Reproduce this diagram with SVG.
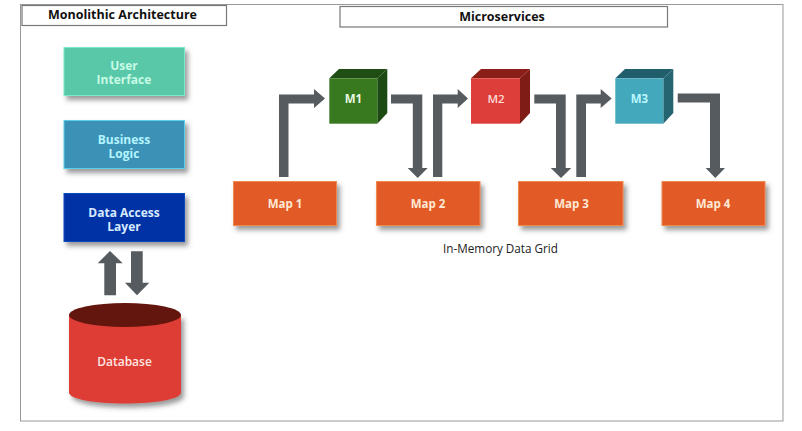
<svg xmlns="http://www.w3.org/2000/svg" width="802" height="431" viewBox="0 0 802 431">
<defs>
<filter id="sh" x="-20%" y="-20%" width="150%" height="150%"><feDropShadow dx="3" dy="4" stdDeviation="2.5" flood-color="#555" flood-opacity="0.6"/></filter>
</defs>
<style>
text{font-family:"Open Sans","Liberation Sans",sans-serif;text-anchor:middle}
.t{font-size:12.500px;font-weight:700;fill:#111}
.b{font-size:11.500px;font-weight:700}
.l{font-size:12px;font-weight:700}
.map{fill:#e25a27;stroke:#f08a50;stroke-width:1;filter:url(#sh)}
.mt{fill:#ffe9d6}
.box{fill:#fff;stroke:#777;stroke-width:1.2}
.con{fill:#555b5e}
</style>
<rect id="frame" x="20.500" y="4.500" width="762.500" height="416.500" fill="#fff" stroke="#999" stroke-width="1"/>
<g id="title-mono"><rect class="box" x="22" y="5.500" width="204.500" height="20"/><text class="t" x="122.500" y="19">Monolithic Architecture</text></g>
<g id="title-micro"><rect class="box" x="340" y="6.500" width="327.500" height="20.500"/><text class="t" x="502" y="21">Microservices</text></g>
<g id="connectors">
<polygon class="con" points="104.300,295.300 116,295.300 116,263.300 122.700,263.300 110,251 97.700,263.300 104.300,263.300"/>
<polygon class="con" points="131,251.300 142.700,251.300 142.700,282.700 149.300,282.700 137,295.300 125,282.700 131,282.700"/>
<polygon class="con" points="279,177 288.500,177 288.500,103.500 314,103.500 314,108 325,98.500 314,89 314,94.500 279,94.500"/>
<polygon class="con" points="391,94.500 422.300,94.500 422.300,168 427.700,168 417.700,178 407.700,168 412.800,168 412.800,103.500 391,103.500"/>
<polygon class="con" points="433,177 442.300,177 442.300,103.500 457.700,103.500 457.700,108 468,98.500 457.700,89 457.700,94.500 433,94.500"/>
<polygon class="con" points="534.300,94.500 565.700,94.500 565.700,168 571.300,168 561,178 550.700,168 556,168 556,103.500 534.300,103.500"/>
<polygon class="con" points="576.300,177 586,177 586,103.500 600.700,103.500 600.700,108 611.700,98.500 600.700,89 600.700,94.500 576.300,94.500"/>
<polygon class="con" points="677.700,93.500 720,93.500 720,168 725,168 715.300,178 705.700,168 710,168 710,102.500 677.700,102.500"/>
</g>
<g id="user-interface"><rect x="64" y="47.500" width="120.500" height="48" fill="#58c8a8" stroke="#7ee8cc" filter="url(#sh)"/><text class="l" fill="#c8fbe6"><tspan x="124" y="69.500">User</tspan><tspan x="124" y="84">Interface</tspan></text></g>
<g id="business-logic"><rect x="64" y="120.500" width="120.500" height="48" fill="#3a92b6" stroke="#5cd0e8" filter="url(#sh)"/><text class="l" fill="#b4f4ff"><tspan x="124" y="143.500">Business</tspan><tspan x="124" y="158">Logic</tspan></text></g>
<g id="data-access"><rect x="64" y="193.500" width="120.500" height="48" fill="#0433a6" stroke="#0a48c0" filter="url(#sh)"/><text class="l" fill="#d8eaff"><tspan x="124" y="216.500">Data Access</tspan><tspan x="124" y="231">Layer</tspan></text></g>
<g id="database">
<path d="M69 315V392.500C69 399 94 403.500 125 403.500S181 399 181 392.500V315Z" fill="#de3e36" filter="url(#sh)"/>
<ellipse cx="125" cy="315" rx="56" ry="12" fill="#63160e"/>
<text fill="#ffe8e4" style="font-size:12px;font-weight:600" x="124.500" y="366">Database</text>
</g>
<g id="m1"><polygon points="329.300,78.300 339,69 387.300,69 377.300,78.300" fill="#1f4d14"/><polygon points="377.300,78.300 387.300,69 387.300,113 377.300,123.700" fill="#1d4a12"/><rect x="329.300" y="78.300" width="48" height="45.400" fill="#38791f"/><text class="b" fill="#e8f8e0" x="353.500" y="102.500">M1</text></g>
<g id="m2"><polygon points="471,78.300 481,69 530,69 520,78.300" fill="#8a1f18"/><polygon points="520,78.300 530,69 530,113 520,123.700" fill="#7f1c15"/><rect x="471" y="78.300" width="49" height="45.400" fill="#de3e3a"/><text class="b" fill="#ffdcd8" style="font-weight:600" x="496" y="102.500">M2</text></g>
<g id="m3"><polygon points="615.300,78.300 625,69 673.300,69 663.300,78.300" fill="#215e6c"/><polygon points="663.300,78.300 673.300,69 673.300,113 663.300,123.700" fill="#256572"/><rect x="615.300" y="78.300" width="48" height="45.400" fill="#44a8bc"/><text class="b" fill="#b8f6ff" x="639.500" y="102.500">M3</text></g>
<g id="map1"><rect class="map" x="233.500" y="181.500" width="103" height="44"/><text class="b mt" x="285" y="208">Map 1</text></g>
<g id="map2"><rect class="map" x="376.500" y="181.500" width="103.500" height="44"/><text class="b mt" x="428" y="208">Map 2</text></g>
<g id="map3"><rect class="map" x="518.500" y="181.500" width="104.500" height="44"/><text class="b mt" x="571.500" y="208">Map 3</text></g>
<g id="map4"><rect class="map" x="662" y="181.500" width="103" height="44"/><text class="b mt" x="713" y="208">Map 4</text></g>
<text id="grid-label" style="font-size:11.700px;font-weight:500" fill="#222" x="500.500" y="253">In-Memory Data Grid</text>
</svg>
